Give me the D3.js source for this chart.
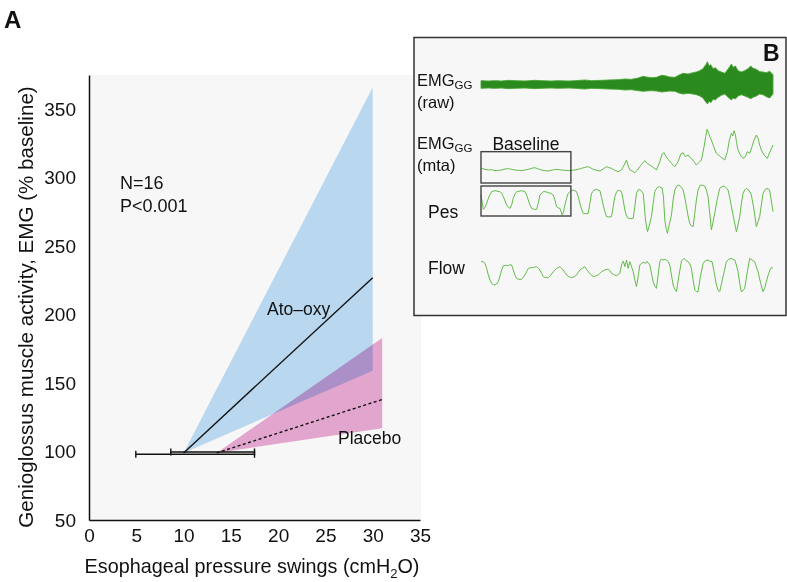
<!DOCTYPE html>
<html><head><meta charset="utf-8">
<script src="https://cdn.jsdelivr.net/npm/d3@7"></script>
<style>
body{margin:0;background:#fff}
svg{display:block}
text{font-family:"Liberation Sans",Arial,Helvetica,sans-serif;fill:#111}
</style>
</head><body>
<svg id="chart" width="787" height="582"></svg>
<script>
// ---------- Panel A data ----------
const xTicks = [0, 5, 10, 15, 20, 25, 30, 35];
const yTicks = [50, 100, 150, 200, 250, 300, 350];
const groupNames = ["Ato\u2013oxy", "Placebo"];
const groupStartX = [10.0, 13.5];      // cmH2O at baseline
const groupStartY = [99, 99];          // % baseline
const groupEndX = [30, 31];
const fitEndY = [227, 138];
const bandUpperEndY = [366, 183];
const bandLowerEndY = [159, 117];
const errBarY = [98, 99.7];
const errBarLo = [4.95, 8.65];
const errBarHi = [17.5, 17.5];
const statsText = ["N=16", "P<0.001"];

// ---------- Panel B data (time in samples, amplitudes in a.u.) ----------
const traceTimeExtent = [18, 895];
const baselineWindow = [18, 288];
const rawUpper = [[18,88],[40,87],[60,88],[80,87],[100,89],[120,88],[150,87],[180,89],[200,88],[230,87],[250,88],[280,87],[300,88],[330,90],[350,88],[380,89],[400,90],[430,91],[450,93],[470,92],[490,96],[505,101],[515,99],[530,97],[545,98],[560,104],[570,103],[585,99],[600,98],[615,106],[625,110],[640,108],[655,112],[665,114],[675,118],[685,124],[690,132],[695,138],[698,145],[703,132],[708,136],[715,124],[722,127],[730,118],[740,114],[750,110],[758,120],[765,130],[770,138],[775,128],[782,132],[790,118],[800,114],[810,118],[820,124],[828,132],[835,125],[845,122],[855,115],[865,114],[875,112],[885,116],[895,106]];
const rawLower = [[18,65],[40,66],[60,65],[80,66],[100,64],[120,65],[150,66],[180,64],[200,65],[230,66],[250,65],[280,66],[300,65],[330,63],[350,65],[380,64],[400,63],[430,62],[450,60],[470,61],[490,58],[505,56],[515,57],[530,58],[545,57],[560,54],[570,55],[585,57],[600,56],[615,50],[625,48],[640,50],[655,48],[665,46],[675,42],[685,36],[690,28],[695,22],[698,18],[703,26],[708,22],[715,32],[722,30],[730,38],[740,44],[750,48],[758,40],[765,34],[770,30],[775,36],[782,33],[790,42],[800,46],[810,42],[820,38],[828,34],[835,38],[845,42],[855,48],[865,46],[875,40],[885,36],[895,48]];
const mtaTrace = [[18,35],[30,32],[40,30],[50,31],[60,28],[70,29],[80,30],[90,33],[100,34],[110,32],[120,30],[130,29],[140,28],[150,30],[160,32],[170,35],[180,37],[190,33],[200,30],[210,28],[220,27],[232,30],[245,32],[252,31],[260,30],[270,29],[280,28],[290,29],[300,30],[310,32],[320,35],[330,38],[340,40],[348,36],[355,32],[365,29],[375,27],[385,33],[395,40],[402,37],[410,35],[420,29],[430,25],[440,30],[448,45],[455,60],[460,42],[465,30],[472,27],[480,22],[488,30],[495,40],[503,50],[510,58],[517,50],[525,45],[535,38],[545,30],[555,55],[562,78],[568,82],[574,70],[580,62],[590,50],[600,40],[610,55],[618,78],[625,82],[632,70],[640,75],[645,68],[650,65],[658,55],[665,45],[672,52],[680,60],[688,100],[693,130],[697,152],[702,140],[706,128],[710,120],[717,100],[725,80],[737,70],[750,60],[758,85],[764,120],[770,140],[774,132],[778,148],[782,136],[786,110],[790,90],[797,75],[805,65],[812,70],[818,85],[825,80],[832,100],[838,120],[845,135],[850,125],[855,105],[860,90],[868,75],[878,65],[886,85],[895,105]];
const pesTrace = [[18,135],[22,110],[25,92],[30,98],[35,110],[42,130],[50,145],[60,148],[68,146],[75,145],[80,140],[85,130],[95,105],[100,98],[105,95],[110,105],[115,125],[120,138],[125,145],[140,148],[150,145],[155,135],[160,120],[165,105],[170,95],[178,92],[185,92],[190,110],[195,135],[205,145],[212,145],[220,142],[228,140],[235,135],[240,120],[245,100],[250,96],[255,95],[262,75],[266,85],[270,105],[275,125],[280,140],[288,147],[295,150],[305,145],[310,130],[315,110],[320,92],[325,80],[332,79],[340,80],[345,110],[350,140],[358,150],[365,152],[375,148],[380,128],[385,105],[390,85],[395,70],[402,69],[410,70],[415,100],[420,130],[425,144],[430,150],[440,145],[445,120],[450,90],[455,72],[460,65],[468,64],[475,65],[480,100],[485,140],[490,150],[495,152],[505,140],[508,110],[512,60],[518,25],[524,45],[530,70],[535,110],[540,145],[547,157],[555,160],[562,155],[566,130],[570,60],[574,35],[578,20],[584,50],[590,75],[595,120],[600,150],[606,162],[612,165],[620,158],[625,150],[630,128],[635,100],[640,72],[645,50],[650,42],[655,40],[660,80],[665,120],[670,150],[677,165],[684,164],[690,162],[695,150],[700,130],[705,80],[710,30],[715,55],[720,80],[727,120],[735,155],[742,160],[748,162],[755,156],[760,150],[765,128],[770,100],[778,60],[785,25],[790,45],[795,70],[800,110],[805,140],[810,150],[815,155],[822,150],[830,135],[838,90],[845,40],[850,55],[855,70],[860,105],[865,140],[872,152],[880,155],[885,148],[888,130],[892,105],[895,85]];
const flowTrace = [[18,115],[24,115],[30,110],[35,95],[40,75],[45,60],[50,50],[55,46],[60,45],[65,48],[70,55],[75,72],[80,90],[85,103],[92,104],[100,103],[105,106],[110,105],[115,90],[120,75],[125,65],[132,62],[140,62],[145,68],[150,75],[155,85],[160,95],[167,97],[175,97],[180,99],[185,100],[190,96],[195,90],[200,80],[205,70],[212,67],[220,67],[228,75],[235,85],[240,90],[245,95],[250,97],[255,100],[260,95],[265,90],[270,82],[275,75],[282,70],[290,67],[298,70],[305,75],[310,82],[315,90],[322,95],[330,100],[335,92],[340,85],[347,77],[355,70],[362,72],[370,75],[375,80],[380,85],[390,90],[400,93],[405,88],[410,80],[417,76],[425,73],[430,76],[435,80],[440,105],[443,112],[445,117],[448,108],[450,100],[453,112],[455,120],[458,105],[460,95],[463,108],[465,115],[470,100],[475,85],[480,60],[485,40],[490,70],[495,105],[500,110],[507,113],[512,110],[515,115],[520,112],[525,105],[530,80],[535,55],[540,42],[545,35],[550,75],[555,115],[560,123],[565,120],[570,122],[575,120],[580,115],[585,105],[590,75],[595,45],[600,32],[605,25],[612,70],[620,117],[628,125],[634,118],[640,115],[645,108],[650,95],[655,60],[660,30],[665,25],[670,25],[677,70],[685,110],[692,118],[700,120],[706,116],[712,115],[718,85],[725,45],[730,30],[735,25],[745,70],[755,115],[762,122],[770,125],[775,122],[780,120],[785,105],[790,85],[795,50],[800,25],[805,28],[810,35],[818,85],[825,125],[832,120],[840,115],[845,100],[850,85],[858,50],[865,25],[870,35],[875,55],[882,80],[888,95],[895,97]];
const mtaBoxRange = [-9, 85];
const pesBoxRange = [72, 162];

// ---------- Layout ----------
const svg = d3.select("#chart");
const x = d3.scaleLinear().domain([0, 35]).range([89, 420]);
const y = d3.scaleLinear().domain([50, 375]).range([520, 75]);

// plot background
svg.append("rect").attr("x", x(0)).attr("y", y(375)).attr("width", x(35) - x(0) + 1).attr("height", y(50) - y(375)).attr("fill", "#f7f7f7");

const bandColors = ["#b9d8ef", "#eaaad5"];
const poly = d3.line().x(d => x(d[0])).y(d => y(d[1]));
groupNames.forEach((g, i) => {
  const pts = [[groupStartX[i], groupStartY[i]], [groupEndX[i], bandUpperEndY[i]], [groupEndX[i], bandLowerEndY[i]]];
  svg.append("path").attr("d", poly(pts) + "Z").attr("fill", bandColors[i])
    .style("mix-blend-mode", i === 1 ? "multiply" : null);
});
// fit lines
groupNames.forEach((g, i) => {
  svg.append("path").attr("d", poly([[groupStartX[i], groupStartY[i]], [groupEndX[i], fitEndY[i]]]))
    .attr("stroke", "#111").attr("stroke-width", 1.4).attr("fill", "none")
    .attr("stroke-dasharray", i === 1 ? "3,2.5" : null);
});
// error bars
errBarY.forEach((v, i) => {
  const gy = y(v);
  svg.append("line").attr("x1", x(errBarLo[i])).attr("x2", x(errBarHi[i])).attr("y1", gy).attr("y2", gy).attr("stroke", "#111").attr("stroke-width", 1.4);
  [errBarLo[i], errBarHi[i]].forEach(e => {
    svg.append("line").attr("x1", x(e)).attr("x2", x(e)).attr("y1", gy - 3.5).attr("y2", gy + 3.5).attr("stroke", "#111").attr("stroke-width", 1.4);
  });
});

// axes
const xAxis = svg.append("g").attr("transform", `translate(0,${y(50)})`)
  .call(d3.axisBottom(x).tickValues(xTicks).tickSize(0).tickPadding(9).tickSizeOuter(0));
const yAxis = svg.append("g").attr("transform", `translate(${x(0)},0)`)
  .call(d3.axisLeft(y).tickValues(yTicks).tickSize(0).tickPadding(13).tickSizeOuter(0));
[xAxis, yAxis].forEach(a => {
  a.select(".domain").attr("stroke", "#111").attr("stroke-width", 1.5);
  a.selectAll("text").attr("font-size", 19).attr("font-family", '"Liberation Sans",Arial,sans-serif').attr("fill", "#111");
});

// axis titles
const xt = svg.append("text").attr("x", 252).attr("y", 573).attr("text-anchor", "middle").attr("font-size", 19.8);
xt.append("tspan").text("Esophageal pressure swings (cmH");
xt.append("tspan").attr("font-size", 13).attr("dy", 5).text("2");
xt.append("tspan").attr("dy", -5).text("O)");
svg.append("text").attr("transform", "translate(33,307) rotate(-90)").attr("text-anchor", "middle").attr("font-size", 20.6)
  .text("Genioglossus muscle activity, EMG (% baseline)");

// stats
statsText.forEach((t, i) => svg.append("text").attr("x", 120).attr("y", 189 + i * 23).attr("font-size", 18).text(t));
// group labels
svg.append("text").attr("x", 267).attr("y", 315).attr("font-size", 17.5).text(groupNames[0]);
svg.append("text").attr("x", 338).attr("y", 444).attr("font-size", 17.5).text(groupNames[1]);

// panel label A
svg.append("text").attr("x", 4).attr("y", 28).attr("font-size", 24).attr("font-weight", "bold").text("A");

// ---------- Panel B inset ----------
svg.append("rect").attr("x", 414).attr("y", 37.5).attr("width", 372).attr("height", 278).attr("fill", "#f6f7f6").attr("stroke", "#333").attr("stroke-width", 1.5);
svg.append("text").attr("x", 763).attr("y", 61).attr("font-size", 23).attr("font-weight", "bold").text("B");

const tx = d3.scaleLinear().domain(traceTimeExtent).range([481, 773]);
const yRaw = d3.scaleLinear().domain([0, 150]).range([110, 60]);
const yMta = d3.scaleLinear().domain([0, 180]).range([180, 120]);
const yPes = d3.scaleLinear().domain([0, 180]).range([240, 180]);
const yFlow = d3.scaleLinear().domain([0, 165]).range([300, 245]);

// raw EMG envelope
const rawArea = d3.area().x(d => tx(d[0])).y0((d, i) => yRaw(rawLower[i][1])).y1(d => yRaw(d[1]));
svg.append("path").attr("d", rawArea(rawUpper)).attr("fill", "#2b8a1e").attr("stroke", "#4aa536").attr("stroke-width", 0.9);

const traceColor = "#63bc4b";
[[mtaTrace, yMta], [pesTrace, yPes], [flowTrace, yFlow]].forEach(([data, ys]) => {
  svg.append("path").attr("d", d3.line().x(d => tx(d[0])).y(d => ys(d[1]))(data))
    .attr("fill", "none").attr("stroke", traceColor).attr("stroke-width", 1);
});

// baseline boxes
[[yMta, mtaBoxRange], [yPes, pesBoxRange]].forEach(([ys, r]) => {
  svg.append("rect").attr("x", tx(baselineWindow[0])).attr("y", ys(r[1]))
    .attr("width", tx(baselineWindow[1]) - tx(baselineWindow[0])).attr("height", ys(r[0]) - ys(r[1]))
    .attr("fill", "none").attr("stroke", "#444").attr("stroke-width", 1.4);
});
svg.append("text").attr("x", 526).attr("y", 150).attr("text-anchor", "middle").attr("font-size", 17.5).text("Baseline");

// trace labels
function emgLabel(yb) {
  const t = svg.append("text").attr("x", 417).attr("y", yb).attr("font-size", 16.5);
  t.append("tspan").text("EMG");
  t.append("tspan").attr("font-size", 11.5).attr("dy", 2.5).text("GG");
}
emgLabel(86);
svg.append("text").attr("x", 417).attr("y", 108).attr("font-size", 16.5).text("(raw)");
emgLabel(149);
svg.append("text").attr("x", 417).attr("y", 171).attr("font-size", 16.5).text("(mta)");
svg.append("text").attr("x", 428).attr("y", 218).attr("font-size", 17.5).text("Pes");
svg.append("text").attr("x", 428).attr("y", 274).attr("font-size", 17.5).text("Flow");
</script>
</body></html>
